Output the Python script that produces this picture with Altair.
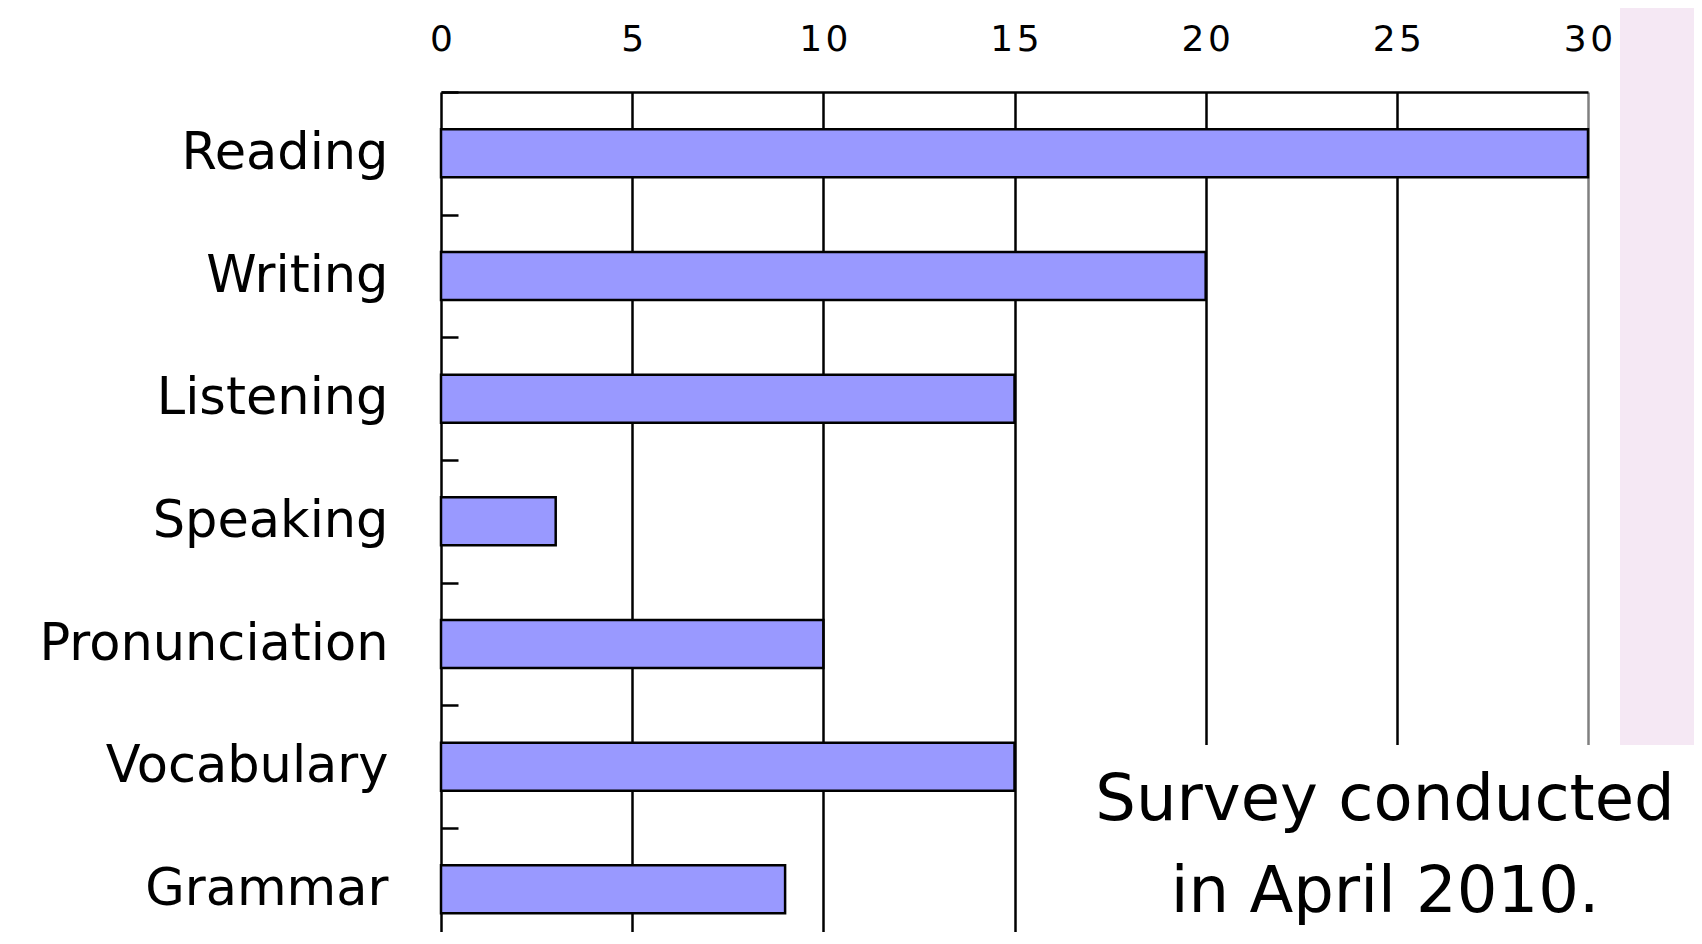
import altair as alt
import pandas as pd

categories = ["Reading", "Writing", "Listening", "Speaking",
              "Pronunciation", "Vocabulary", "Grammar"]
values = [30, 20, 15, 3, 10, 15, 9]
x_ticks = [0, 5, 10, 15, 20, 25, 30]
note_lines = ["Survey conducted", "in April 2010."]

df = pd.DataFrame({"skill": categories, "count": values})
one = pd.DataFrame({"k": [0]})

STEP = 122.67
PI = 0.609
W, H = 1147, 840

bars = alt.Chart(df).mark_bar(
    color="#9999ff", stroke="black", strokeWidth=2.5
).encode(
    x=alt.X(
        "count:Q",
        scale=alt.Scale(domain=[0, 30], nice=False),
        axis=alt.Axis(
            orient="top", values=x_ticks, title=None,
            domain=True, domainColor="black", domainWidth=2.5,
            ticks=False, tickSize=0,
            labelPadding=42, labelBaseline="alphabetic",
            labelFont="DejaVu Sans", labelFontSize=36, labelColor="black",
            labelFlush=False,
            labelExpr="datum.value >= 10 ? join(split(datum.label, ''), '\u200a') : datum.label",
            grid=True,
            gridColor={"condition": {"test": "datum.value === 30", "value": "#808080"}, "value": "black"},
            gridWidth=2.5, gridOpacity=1,
        ),
    ),
    y=alt.Y(
        "skill:N", sort=categories,
        scale=alt.Scale(range=[0, STEP * 7], paddingInner=PI, paddingOuter=PI / 2),
        axis=alt.Axis(
            title=None, domain=False, grid=False,
            ticks=True, tickSize=17, tickColor="black", tickWidth=2.5,
            offset=-17, bandPosition=0,
            tickOffset=-STEP * PI / 2, labelOffset=STEP * PI / 2,
            labelPadding=53, labelFont="DejaVu Sans", labelFontSize=51,
            labelColor="black", labelLimit=600, labelBaseline="middle",
        ),
    ),
)

stripe = alt.Chart(one).mark_rect(color="#f5e8f4").encode(
    x=alt.value(1179), x2=alt.value(1270),
    y=alt.value(-100), y2=alt.value(H + 20),
)

box = alt.Chart(one).mark_rect(color="white").encode(
    x=alt.value(639), x2=alt.value(1270),
    y=alt.value(653), y2=alt.value(H + 20),
)

t1 = alt.Chart(one).mark_text(
    font="DejaVu Sans", fontSize=64, align="center", baseline="alphabetic", color="black"
).encode(x=alt.value(944), y=alt.value(728), text=alt.value(note_lines[0]))

t2 = alt.Chart(one).mark_text(
    font="DejaVu Sans", fontSize=64, align="center", baseline="alphabetic", color="black"
).encode(x=alt.value(944), y=alt.value(820), text=alt.value(note_lines[1]))

chart = alt.layer(bars, stripe, box, t1, t2).properties(
    width=W, height=H,
    background="white",
    padding={"left": 433, "top": 84, "right": 106, "bottom": 0},
    autosize=alt.AutoSizeParams(type="none"),
).configure_view(stroke=None)

chart.save("out.html", embed_options={"renderer": "svg", "actions": False})
